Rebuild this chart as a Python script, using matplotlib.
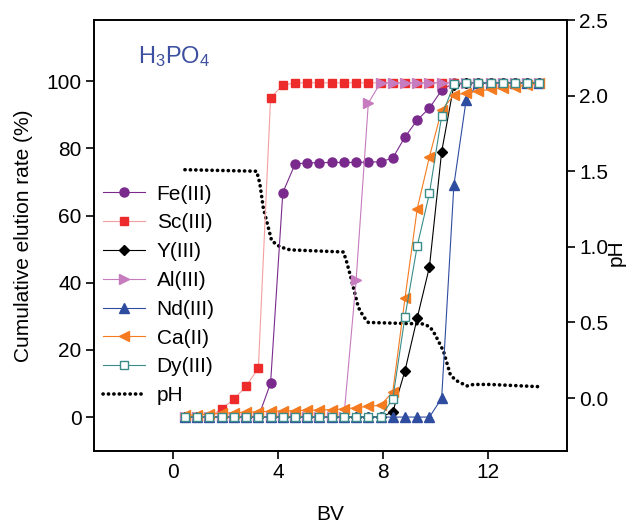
import matplotlib
matplotlib.use("Agg")
import matplotlib.pyplot as plt

plt.rcParams['font.family'] = ['Liberation Sans', 'DejaVu Sans']
plt.rcParams['mathtext.default'] = 'regular'

bv = [0.465, 0.93, 1.395, 1.86, 2.325, 2.79, 3.255, 3.72, 4.185, 4.65,
      5.115, 5.58, 6.045, 6.51, 6.975, 7.44, 7.905, 8.37, 8.835, 9.3,
      9.765, 10.23, 10.695, 11.16, 11.625, 12.09, 12.555, 13.02, 13.485, 13.95]

fe = [0, 0, 0, 0, 0, 0, 0, 10.1, 66.8, 75.3,
      75.7, 75.7, 75.8, 75.8, 75.8, 75.9, 76.0, 77.1, 83.4, 88.4,
      92.0, 97.3, 99.5, 99.5, 99.5, 99.5, 99.5, 99.5, 99.5, 99.5]
sc = [0, 0, 0, 2.5, 5.3, 9.2, 14.6, 95.0, 98.8, 99.5,
      99.5, 99.5, 99.5, 99.5, 99.5, 99.5, 99.5, 99.5, 99.5, 99.5,
      99.5, 99.5, 99.5, 99.5, 99.5, 99.5, 99.5, 99.5, 99.5, 99.5]
yy = [0, 0, 0, 0, 0, 0, 0, 0, 0, 0,
      0, 0, 0, 0, 0, 0, 0, 1.5, 13.8, 29.5,
      44.7, 79.0, 98.8, 99.5, 99.5, 99.5, 99.5, 99.5, 99.5, 99.5]
al = [0, 0, 0, 0, 0, 0, 0, 0, 0, 0,
      0, 0, 0, 0, 40.8, 93.5, 99.5, 99.5, 99.5, 99.5,
      99.5, 99.5, 99.5, 99.5, 99.5, 99.5, 99.5, 99.5, 99.5, 99.5]
nd = [0, 0, 0, 0, 0, 0, 0, 0, 0, 0,
      0, 0, 0, 0, 0, 0, 0, 0, 0, 0,
      0, 5.6, 69.0, 94.3, 99.5, 99.5, 99.5, 99.5, 99.5, 99.5]
ca = [0.5, 0.7, 0.9, 1.1, 1.3, 1.4, 1.6, 1.7, 1.8, 1.9,
      2.0, 2.1, 2.2, 2.4, 2.8, 3.2, 3.5, 7.5, 35.4, 62.0,
      77.5, 91.4, 95.8, 96.5, 97.0, 97.6, 98.1, 98.4, 98.8, 99.3]
dy = [0, 0, 0, 0, 0, 0, 0, 0, 0, 0,
      0, 0, 0, 0, 0, 0, 0, 5.4, 29.9, 50.9,
      66.6, 89.6, 99.0, 99.5, 99.5, 99.5, 99.5, 99.5, 99.5, 99.5]

ph_bv = [0.46, 3.19, 3.31, 3.44, 3.63, 3.76, 4.08, 4.46, 6.49, 6.6, 6.74, 6.8,
         6.93, 7.06, 7.25, 7.44, 9.54, 9.79, 9.98, 10.3, 10.55, 10.74, 11.19,
         11.44, 12.07, 13.98]
ph = [1.51, 1.50, 1.42, 1.26, 1.13, 1.04, 1.0, 0.98, 0.966, 0.91, 0.82, 0.78,
      0.69, 0.60, 0.54, 0.50, 0.49, 0.47, 0.42, 0.31, 0.16, 0.12, 0.08,
      0.09, 0.09, 0.075]

fig = plt.figure(figsize=(6.42, 5.25), dpi=100)
ax = fig.add_axes([94/642, 1-451/525, 473/642, 431/525])
ax2 = ax.twinx()
ax.set_zorder(2)
ax.patch.set_visible(False)
ax2.set_zorder(1)

lw = 0.8
h_fe, = ax.plot(bv, fe, '-o', color='#7A2A8C', lw=lw, ms=6.5, label='Fe(III)')
h_sc, = ax.plot(bv, sc, '-', color='#F5A0A0', lw=lw, marker='s', mfc='#EE2B2B',
                mec='#EE2B2B', ms=5.5, label='Sc(III)')
h_y, = ax.plot(bv, yy, '-D', color='#000000', lw=lw, ms=5.5, label='Y(III)')
h_al, = ax.plot(bv, al, '->', color='#C67CBE', lw=lw, ms=7, label='Al(III)')
h_nd, = ax.plot(bv, nd, '-^', color='#2E4DA0', lw=lw, ms=6.5, label='Nd(III)')
h_ca, = ax.plot(bv, ca, '-<', color='#F47B20', lw=lw, ms=7, label='Ca(II)')
h_dy, = ax.plot(bv, dy, '-s', color='#3A8C88', lw=lw, ms=6, mfc='white',
                mec='#3A8C88', mew=1.0, label='Dy(III)')
h_ph, = ax2.plot(ph_bv, ph, color='black', lw=2.6, linestyle=(0, (0.05, 1.45)),
                 dash_capstyle='round', label='pH')

ax.set_xlim(-3, 15)
ax.set_ylim(-10.1, 118.2)
ax2.set_ylim(-0.35, 2.5)
ax.set_xticks([0, 4, 8, 12])
ax.set_yticks([0, 20, 40, 60, 80, 100])
ax2.set_yticks([0.0, 0.5, 1.0, 1.5, 2.0, 2.5])
ax2.set_yticklabels(['0.0', '0.5', '1.0', '1.5', '2.0', '2.5'])

for a in (ax, ax2):
    for s in a.spines.values():
        s.set_linewidth(1.2)
    a.tick_params(direction='out', length=6, width=1.2, labelsize=15, pad=3)
ax.tick_params(axis='y', right=False)
ax.tick_params(axis='x', top=False)

ax.set_xlabel('BV', fontsize=15)
ax.xaxis.set_label_coords(0.5, -0.125)
ax.set_ylabel('Cumulative elution rate (%)', fontsize=15)
ax.yaxis.set_label_coords(-0.13, 0.5)
ax2.set_ylabel('pH', fontsize=15, rotation=90)
ax2.yaxis.set_label_coords(1.083, 0.46)

ax.text(0.093, 0.915, r'H$_3$PO$_4$', transform=ax.transAxes, fontsize=17,
        color='#3D4FA0', ha='left', va='center')

ax.legend(handles=[h_fe, h_sc, h_y, h_al, h_nd, h_ca, h_dy, h_ph],
          loc='center left', bbox_to_anchor=(0.02, 0.362), frameon=False,
          fontsize=15, numpoints=1, handlelength=2.0, handletextpad=0.55,
          labelspacing=0.47, borderaxespad=0, borderpad=0)

fig.savefig('out.png', dpi=100)
